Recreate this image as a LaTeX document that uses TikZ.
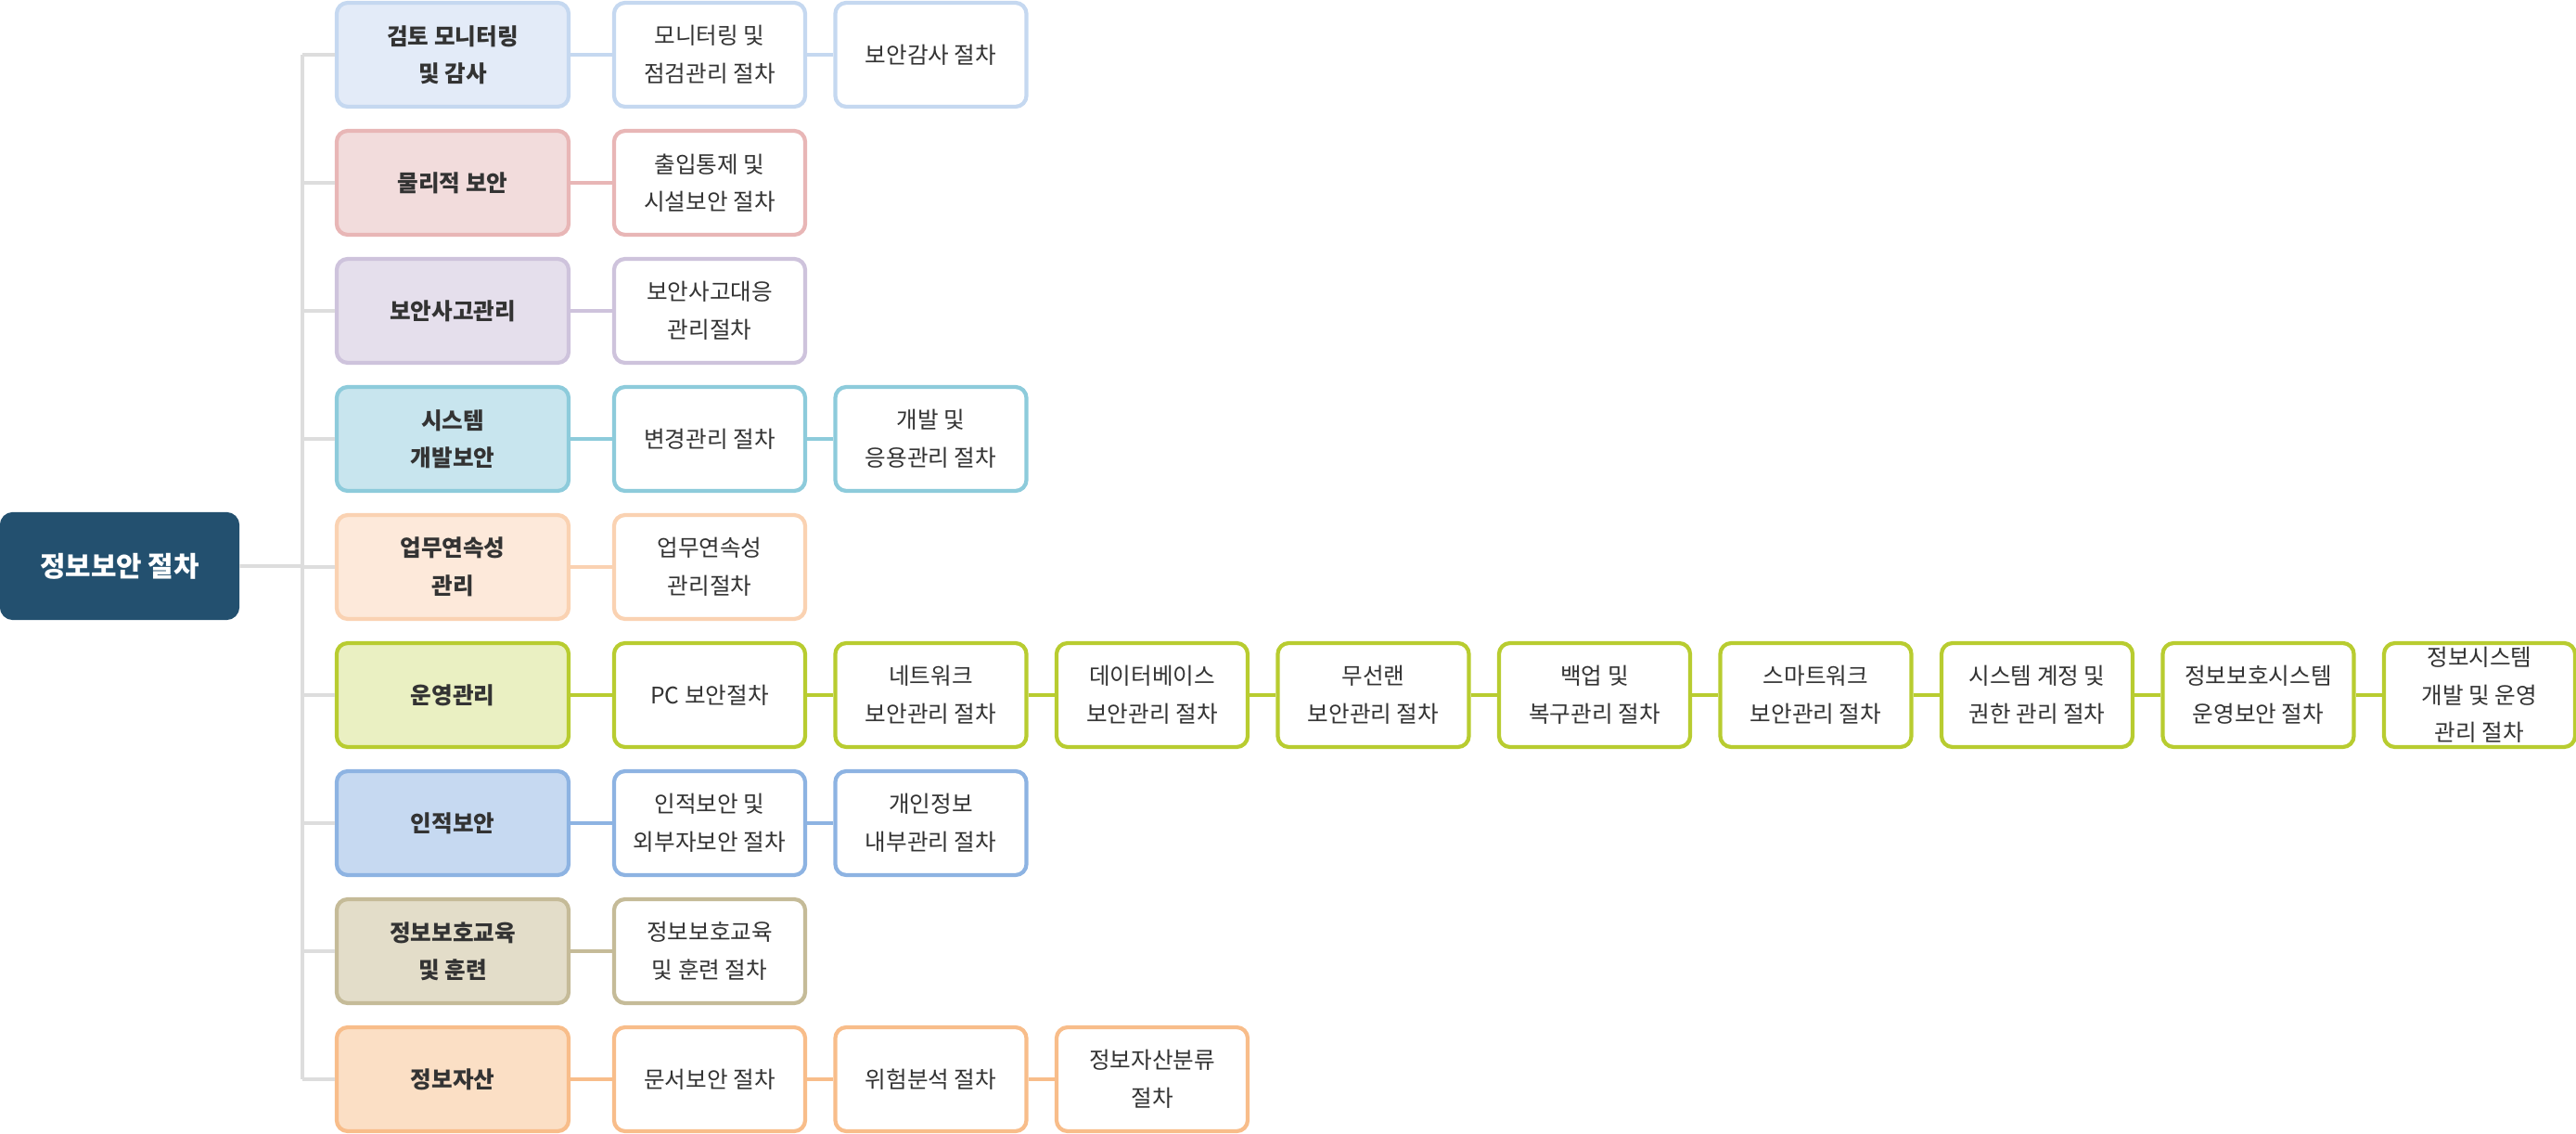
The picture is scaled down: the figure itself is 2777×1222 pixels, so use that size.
\documentclass[tikz,border=0pt]{standalone}
\usepackage{fontspec}
\setmainfont{Noto Sans CJK KR}
\definecolor{txt}{HTML}{333333}
\definecolor{trunk}{HTML}{DDDDDD}
\definecolor{rootc}{HTML}{23506F}
\definecolor{fA}{HTML}{E3EBF8}\definecolor{dA}{HTML}{C5D8F0}
\definecolor{fB}{HTML}{F2DCDC}\definecolor{dB}{HTML}{E8B6B6}
\definecolor{fC}{HTML}{E5DFEC}\definecolor{dC}{HTML}{CEC3DC}
\definecolor{fD}{HTML}{C8E5EE}\definecolor{dD}{HTML}{8DCBDB}
\definecolor{fE}{HTML}{FDE9DA}\definecolor{dE}{HTML}{FAD2B2}
\definecolor{fF}{HTML}{EAF0C2}\definecolor{dF}{HTML}{B8CC30}
\definecolor{fG}{HTML}{C6D9F1}\definecolor{dG}{HTML}{8DB3E2}
\definecolor{fH}{HTML}{E3DDC9}\definecolor{dH}{HTML}{C5BB98}
\definecolor{fI}{HTML}{FBDFC5}\definecolor{dI}{HTML}{F8BD8A}
\begin{document}
\begin{tikzpicture}
[x=0.01cm,y=-0.01cm,
 box/.style={rounded corners=0.12cm, line width=1.2pt, align=center, text=txt,
   font=\fontsize{7}{11.5}\selectfont, minimum height=1.12cm, inner sep=0pt},
 cat/.style 2 args={box, fill=#1, draw=#2, minimum width=2.5cm, font=\fontsize{7}{11.5}\selectfont\bfseries},
 leaf/.style={box, fill=white, draw=#1, minimum width=2.06cm},
 link/.style={draw=#1, line width=1.2pt},
]
\useasboundingbox (0,0) rectangle (2777,1222);
\node[box, fill=rootc, draw=rootc, text=white, minimum width=2.54cm,
  font=\fontsize{8.5}{12}\selectfont\bfseries] (root) at (129,610) {정보보안 절차};
\coordinate (top) at (326,59);
\coordinate (bot) at (326,1163);
\draw[link=trunk] (root.east) -- (root.east -| top);
\draw[link=trunk] (top) -- (bot);
\foreach \r/\fc/\dc/\name/\leaves in {
  1/fA/dA/{검토 모니터링\\및 감사}/{{모니터링 및\\점검관리 절차},{보안감사 절차}},
  2/fB/dB/{물리적 보안}/{{출입통제 및\\시설보안 절차}},
  3/fC/dC/{보안사고관리}/{{보안사고대응\\관리절차}},
  4/fD/dD/{시스템\\개발보안}/{{변경관리 절차},{개발 및\\응용관리 절차}},
  5/fE/dE/{업무연속성\\관리}/{{업무연속성\\관리절차}},
  6/fF/dF/{운영관리}/{{PC 보안절차},{네트워크\\보안관리 절차},{데이터베이스\\보안관리 절차},{무선랜\\보안관리 절차},{백업 및\\복구관리 절차},{스마트워크\\보안관리 절차},{시스템 계정 및\\권한 관리 절차},{정보보호시스템\\운영보안 절차},{정보시스템\\개발 및 운영\\관리 절차}},
  7/fG/dG/{인적보안}/{{인적보안 및\\외부자보안 절차},{개인정보\\내부관리 절차}},
  8/fH/dH/{정보보호교육\\및 훈련}/{{정보보호교육\\및 훈련 절차}},
  9/fI/dI/{정보자산}/{{문서보안 절차},{위험분석 절차},{정보자산분류\\절차}}}
{
  \node[cat={\fc}{\dc}, alias=l\r-0] (c\r) at (488,{59+138*(\r-1)}) {\name};
  \draw[link=trunk] (c\r.west -| top) -- (c\r.west);
  \foreach \t [count=\j, remember=\j as \i (initially 0)] in \leaves
  {
    \node[leaf=\dc] (l\r-\j) at ({765+238.5*(\j-1)},{59+138*(\r-1)}) {\t};
    \draw[link=\dc] (l\r-\i.east) -- (l\r-\j.west);
  }
}
\end{tikzpicture}
\end{document}
